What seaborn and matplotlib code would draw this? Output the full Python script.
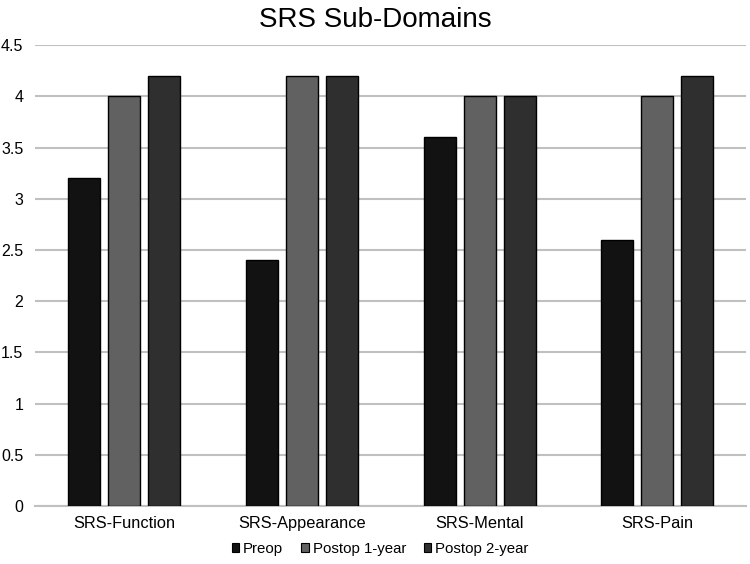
import pandas as pd
import seaborn as sns
import matplotlib.pyplot as plt
from matplotlib.ticker import FuncFormatter

domains = ['SRS-Function', 'SRS-Appearance', 'SRS-Mental', 'SRS-Pain']
timepoints = ['Preop', 'Postop 1-year', 'Postop 2-year']
preop = [3.2, 2.4, 3.6, 2.6]
postop_1yr = [4.0, 4.2, 4.0, 4.0]
postop_2yr = [4.2, 4.2, 4.0, 4.2]
colors = ['#121212', '#616161', '#2f2f2f']

df = pd.DataFrame({'domain': domains * 3,
                   'time': [t for t in timepoints for _ in domains],
                   'score': preop + postop_1yr + postop_2yr})

sns.set_style('white')
plt.rcParams['font.family'] = ['Liberation Sans', 'DejaVu Sans']
plt.rcParams['text.color'] = 'black'
plt.rcParams['xtick.color'] = 'black'
plt.rcParams['ytick.color'] = 'black'

fig = plt.figure(figsize=(7.5, 5.64), dpi=100)
ax = fig.add_axes([0.047, 0.103, 0.948, 0.817])
sns.barplot(data=df, x='domain', y='score', hue='time', palette=colors,
            width=0.675, gap=0.2, edgecolor='black', linewidth=1,
            legend=False, ax=ax, zorder=3)

ax.set_ylim(0, 4.5)
ax.set_yticks([i * 0.5 for i in range(10)])
ax.yaxis.set_major_formatter(FuncFormatter(lambda v, p: f'{v:g}'))
ax.yaxis.grid(True, color='#c0c0c0', linewidth=1.5, zorder=0)
ax.set_axisbelow(True)
for s in ['left', 'right', 'top']:
    ax.spines[s].set_visible(False)
ax.spines['bottom'].set_color('#c0c0c0')
ax.spines['bottom'].set_linewidth(1.5)
ax.tick_params(axis='y', length=0, pad=8.5, labelsize=11.5)
ax.tick_params(axis='x', length=0, pad=7, labelsize=11.8)
ax.set_xlabel('')
ax.set_ylabel('')

fig.suptitle('SRS Sub-Domains', fontsize=20, y=0.987)

handles = [plt.Rectangle((0, 0), 1, 1, facecolor=c, edgecolor='black', linewidth=0.8) for c in colors]
fig.legend(handles, timepoints, loc='center', bbox_to_anchor=(0.507, 0.027), ncol=3,
           frameon=False, fontsize=10.8, handlelength=0.5, handleheight=0.5,
           handletextpad=0.25, columnspacing=1.2)

fig.savefig('out.png', dpi=100)
